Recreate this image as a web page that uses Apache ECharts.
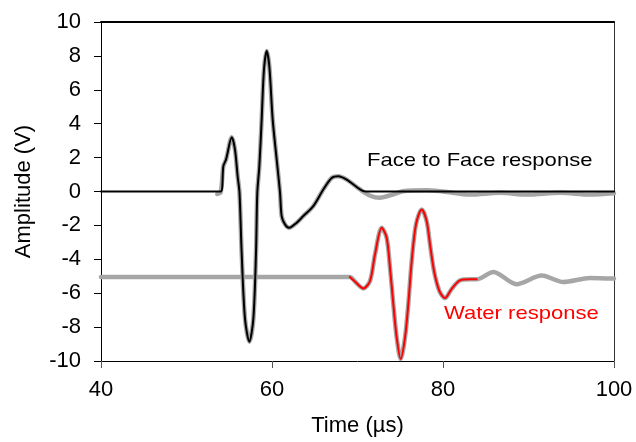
<!DOCTYPE html>
<html>
<head>
<meta charset="utf-8">
<script src="https://cdn.jsdelivr.net/npm/echarts@6/dist/echarts.min.js"></script>
<style>
  html, body { margin: 0; padding: 0; background: #ffffff; }
  #chart { width: 636px; height: 442px; }
</style>
</head>
<body>
<div id="chart"></div>
<script>
// Axis ticks
const xTickValues = [40, 60, 80, 100];
const yTickValues = [-10, -8, -6, -4, -2, 0, 2, 4, 6, 8, 10];

// Face to Face response (µs, V) – thin black trace
const faceTime = [40, 54.0, 54.31, 54.62, 55.3, 55.67, 55.98, 56.2, 56.45, 56.84, 57.35, 57.82, 58.13, 58.28, 58.52, 58.79, 59.06, 59.38, 59.69, 60.08, 60.55, 60.94, 61.13, 61.52, 62.0, 62.89, 63.66, 64.83, 66.0, 66.98, 67.76, 68.73, 70.3, 70.9, 100];
const faceVolt = [0, 0, 1.5, 1.88, 3.2, 2.47, 0.9, -0.08, -3.6, -7.5, -8.86, -7.5, -3.6, -0.08, 1.5, 4.24, 7.18, 8.29, 7.37, 4.24, 1.88, -0.08, -1.45, -1.94, -2.14, -1.84, -1.45, -0.86, 0.12, 0.8, 0.9, 0.7, 0.12, 0, 0];

// Face to Face response – full recorded trace (grey)
const faceFullTime = [53.6, 54.0, 54.31, 54.62, 55.3, 55.67, 55.98, 56.2, 56.45, 56.84, 57.35, 57.82, 58.13, 58.28, 58.52, 58.79, 59.06, 59.38, 59.69, 60.08, 60.55, 60.94, 61.13, 61.52, 62.0, 62.89, 63.66, 64.83, 66.0, 66.98, 67.76, 68.73, 70.3, 71.5, 72.63, 74.0, 75.3, 78.1, 80.0, 83.2, 86.7, 89.8, 93.7, 97.2, 100];
const faceFullVolt = [-0.15, -0.05, 1.5, 1.88, 3.2, 2.47, 0.9, -0.08, -3.6, -7.5, -8.86, -7.5, -3.6, -0.08, 1.5, 4.24, 7.18, 8.29, 7.37, 4.24, 1.88, -0.08, -1.45, -1.94, -2.14, -1.84, -1.45, -0.86, 0.12, 0.8, 0.9, 0.7, 0.12, -0.25, -0.37, -0.2, 0.02, 0.08, 0.0, -0.18, -0.08, -0.18, -0.08, -0.18, -0.1];

// Water response (µs, V) – red trace over the main pulse
const waterTime = [69.1, 69.7, 70.68, 71.46, 72.05, 72.83, 73.41, 73.8, 74.19, 74.58, 75.05, 75.56, 75.94, 76.34, 76.84, 77.51, 78.09, 78.48, 78.95, 79.57, 80.23, 81.0, 81.99, 83.16, 83.94];
const waterVolt = [-5.04, -5.31, -5.72, -5.28, -3.7, -2.14, -2.73, -4.49, -6.65, -8.6, -9.88, -8.6, -6.65, -4.1, -1.94, -1.06, -1.75, -3.12, -4.69, -5.86, -6.29, -5.76, -5.24, -5.18, -5.18];

// Water response – full recorded trace (grey)
const waterFullTime = [40, 69.1, 69.7, 70.68, 71.46, 72.05, 72.83, 73.41, 73.8, 74.19, 74.58, 75.05, 75.56, 75.94, 76.34, 76.84, 77.51, 78.09, 78.48, 78.95, 79.57, 80.23, 81.0, 81.99, 83.16, 83.94, 85.9, 88.6, 91.55, 94.07, 97.2, 100];
const waterFullVolt = [-5.04, -5.04, -5.31, -5.72, -5.28, -3.7, -2.14, -2.73, -4.49, -6.65, -8.6, -9.88, -8.6, -6.65, -4.1, -1.94, -1.06, -1.75, -3.12, -4.69, -5.86, -6.29, -5.76, -5.24, -5.18, -5.18, -4.75, -5.47, -4.96, -5.34, -5.1, -5.14];

const FONT = '"Liberation Sans", Arial, sans-serif';
const pairs = (xs, ys) => xs.map((x, i) => [x, ys[i]]);

const chart = echarts.init(document.getElementById('chart'), null, { renderer: 'canvas' });

const lineSeries = (data, color, width, z) => ({
  type: 'line',
  data: data,
  showSymbol: false,
  symbol: 'none',
  smooth: 0.3,
  lineStyle: { color: color, width: width, cap: 'round', join: 'round' },
  z: z,
  silent: true
});

chart.setOption({
  animation: false,
  backgroundColor: '#ffffff',
  grid: { left: 101, right: 22, top: 22, bottom: 80, containLabel: false },
  xAxis: [{
    type: 'value',
    min: xTickValues[0],
    max: xTickValues[xTickValues.length - 1],
    interval: 20,
    name: 'Time (µs)',
    nameLocation: 'middle',
    nameGap: 54,
    nameTextStyle: { fontFamily: FONT, fontSize: 22, color: '#000' },
    axisLine: { show: true, onZero: false, lineStyle: { color: '#000', width: 1 } },
    axisTick: { show: true, inside: false, length: 7, lineStyle: { color: '#555' } },
    axisLabel: { fontFamily: FONT, fontSize: 22, color: '#000', margin: 18 },
    splitLine: { show: false }
  }, {
    type: 'value',
    position: 'top',
    min: 40, max: 100,
    axisLine: { show: true, onZero: false, lineStyle: { color: '#000', width: 2 } },
    axisTick: { show: false },
    axisLabel: { show: false },
    splitLine: { show: false }
  }],
  yAxis: [{
    type: 'value',
    min: yTickValues[0],
    max: yTickValues[yTickValues.length - 1],
    interval: 2,
    name: 'Amplitude (V)',
    nameLocation: 'middle',
    nameGap: 66,
    nameTextStyle: { fontFamily: FONT, fontSize: 22, color: '#000' },
    axisLine: { show: true, onZero: false, lineStyle: { color: '#000', width: 1 } },
    axisTick: { show: true, inside: false, length: 7, lineStyle: { color: '#000' } },
    axisLabel: { fontFamily: FONT, fontSize: 22, color: '#000', margin: 20 },
    splitLine: { show: false }
  }, {
    type: 'value',
    position: 'right',
    min: -10, max: 10,
    axisLine: { show: true, onZero: false, lineStyle: { color: '#333', width: 1 } },
    axisTick: { show: false },
    axisLabel: { show: false },
    splitLine: { show: false }
  }],
  series: [
    lineSeries(pairs(waterFullTime, waterFullVolt), '#a6a6a6', 4.5, 2),
    lineSeries(pairs(faceFullTime, faceFullVolt), '#a6a6a6', 4.5, 2),
    lineSeries(pairs(faceTime, faceVolt), '#000000', 2, 3),
    lineSeries(pairs(waterTime, waterVolt), '#ff0000', 2, 4)
  ],
  graphic: [{
    type: 'text',
    x: 367, y: 151,
    scaleX: 1.16,
    style: { text: 'Face to Face response', font: '19px ' + FONT, fill: '#000', textAlign: 'left', textVerticalAlign: 'top' },
    z: 10
  }, {
    type: 'text',
    x: 444, y: 304,
    scaleX: 1.16,
    style: { text: 'Water response', font: '19px ' + FONT, fill: '#ff0000', textAlign: 'left', textVerticalAlign: 'top' },
    z: 10
  }]
});
</script>
</body>
</html>
